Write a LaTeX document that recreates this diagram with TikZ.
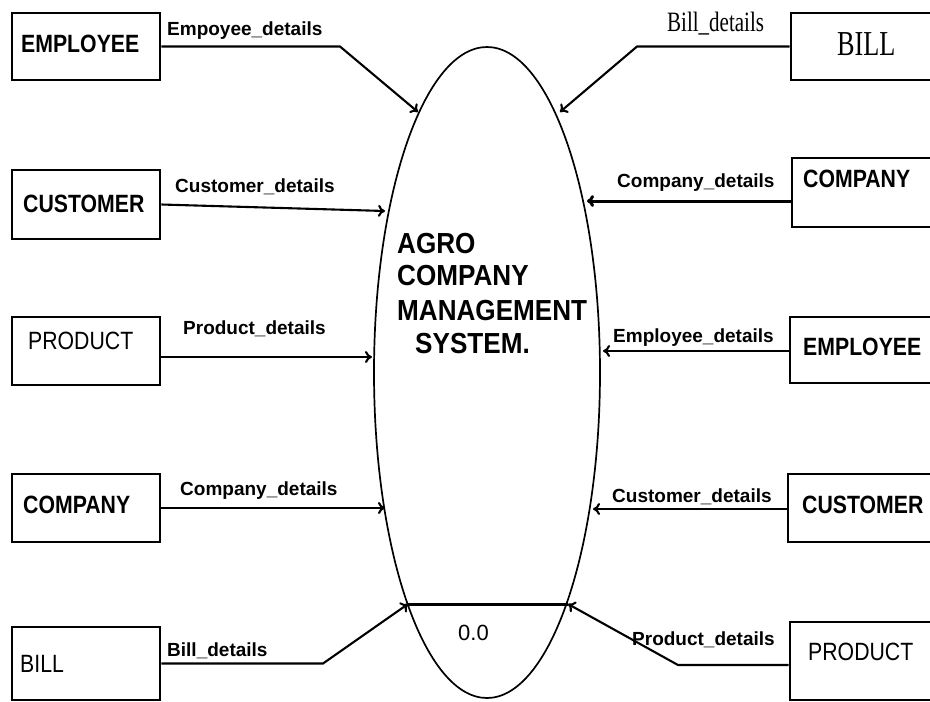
\documentclass[tikz,border=0pt]{standalone}
\usepackage{fontspec}
\setmainfont{Liberation Sans}
\newfontfamily\boxfont[FakeStretch=0.85]{Liberation Sans}
\newfontfamily\titlefont[FakeStretch=0.9]{Liberation Sans}
\newfontfamily\billfont[FakeStretch=0.75]{Liberation Serif}
\usetikzlibrary{
    arrows.meta,
    shapes.geometric,
    positioning
}
\tikzset{ent/.style={draw=black, line width=2.6pt, minimum width=148pt, minimum height=67pt, inner sep=0pt}}
\tikzset{enttxt/.style={anchor=base west, inner sep=0pt, font=\boxfont\bfseries\fontsize{25}{25}\selectfont}}
\tikzset{entreg/.style={anchor=base west, inner sep=0pt, font=\boxfont\fontsize{25}{25}\selectfont}}
\tikzset{flw/.style={anchor=base west, inner sep=0pt, font=\bfseries\fontsize{19}{19}\selectfont}}
\tikzset{ttl/.style={anchor=base west, inner sep=0pt, font=\titlefont\bfseries\fontsize{29}{29}\selectfont}}
\tikzset{dfl/.style={line width=2.1pt, -{To[length=7pt,width=12pt]}}}

\begin{document}
\begin{tikzpicture}[x=1pt, y=-1pt]
    \useasboundingbox (0, 0) rectangle (930, 702);

    % process
    \node[draw, ellipse, line width=1.7pt, minimum width=226pt, minimum height=651pt, inner sep=0pt] (sys) at (487, 372.5) {};
    \node[ttl] (s1) at (397, 253) {AGRO};
    \node[ttl] (s2) at (397, 285) {COMPANY};
    \node[ttl] (s3) at (397, 320) {MANAGEMENT};
    \node[ttl] (s4) at (415, 353) {SYSTEM.};
    \node[anchor=base west, inner sep=0pt, font=\fontsize{22}{22}\selectfont] (num) at (458, 640) {0.0};

    % entities, left
    \node[ent] (e1) at (86, 46.5) {};
    \node[ent, minimum height=69pt] (c1) at (86, 204.5) {};
    \node[ent, minimum height=68pt] (p1) at (86, 351) {};
    \node[ent, minimum height=68pt] (m1) at (86, 508) {};
    \node[ent, minimum height=73pt] (b1) at (86, 663.5) {};
    \node[enttxt] (te1) at (21, 52) {EMPLOYEE};
    \node[enttxt] (tc1) at (23, 212) {CUSTOMER};
    \node[entreg] (tp1) at (28, 349) {PRODUCT};
    \node[enttxt] (tm1) at (23, 513) {COMPANY};
    \node[entreg] (tb1) at (20, 672) {BILL};

    % entities, right
    \node[ent, minimum width=141pt] (b2) at (861.5, 46.5) {};
    \node[ent, minimum width=141pt, minimum height=69pt] (m2) at (862.5, 192.5) {};
    \node[ent, minimum width=142pt, minimum height=66pt] (e2) at (861, 350) {};
    \node[ent, minimum width=144pt, minimum height=68pt] (c2) at (860, 508) {};
    \node[ent, minimum width=142pt, minimum height=78pt] (p2) at (861, 661) {};
    \node[anchor=base west, inner sep=0pt, font=\billfont\fontsize{35}{35}\selectfont] (tb2) at (837, 55) {BILL};
    \node[enttxt] (tm2) at (803, 187) {COMPANY};
    \node[enttxt] (te2) at (803, 355) {EMPLOYEE};
    \node[enttxt] (tc2) at (802, 513) {CUSTOMER};
    \node[entreg] (tp2) at (808, 660) {PRODUCT};

    % bends and arrow ends
    \coordinate (k1) at (340, 46.5);
    \coordinate (k5) at (323, 663.5);
    \coordinate (k6) at (637, 46.5);
    \coordinate (k10) at (678, 665);
    \coordinate (t1) at (418, 112);
    \coordinate (t2) at (385, 211);
    \coordinate (t3) at (372, 357);
    \coordinate (t4) at (385, 508);
    \coordinate (t5) at (408, 604);
    \coordinate (t6) at (560, 112);
    \coordinate (t7) at (587, 201);
    \coordinate (t8) at (603, 351);
    \coordinate (t9) at (593, 509);
    \coordinate (t10) at (568, 604);

    % data flows
    \draw[dfl] (e1.east) -- (k1) -- (t1);
    \draw[dfl] (c1.east) -- (t2);
    \draw[dfl] (p1.east |- t3) -- (t3);
    \draw[dfl] (m1.east) -- (t4);
    \draw[dfl] (b1.east) -- (k5) -- (t5);
    \draw[dfl] (b2.west) -- (k6) -- (t6);
    \draw[dfl, line width=3pt] (m2.west |- t7) -- (t7);
    \draw[dfl] (e2.west |- t8) -- (t8);
    \draw[dfl] (c2.west |- t9) -- (t9);
    \draw[dfl] (p2.west |- k10) -- (k10) -- (t10);
    \draw[line width=3pt] (t5) -- (t10);

    \node[flw] (l1) at (167, 35) {Empoyee\_details};
    \node[flw] (l2) at (175, 192) {Customer\_details};
    \node[flw] (l3) at (183, 334) {Product\_details};
    \node[flw] (l4) at (180, 495) {Company\_details};
    \node[flw] (l5) at (167, 656) {Bill\_details};
    \node[anchor=base west, inner sep=0pt, font=\billfont\fontsize{28}{28}\selectfont] (r1) at (667, 31) {Bill\_details};
    \node[flw] (r2) at (617, 187) {Company\_details};
    \node[flw] (r3) at (613, 342) {Employee\_details};
    \node[flw] (r4) at (612, 502) {Customer\_details};
    \node[flw] (r5) at (632, 645) {Product\_details};
\end{tikzpicture}
\end{document}
